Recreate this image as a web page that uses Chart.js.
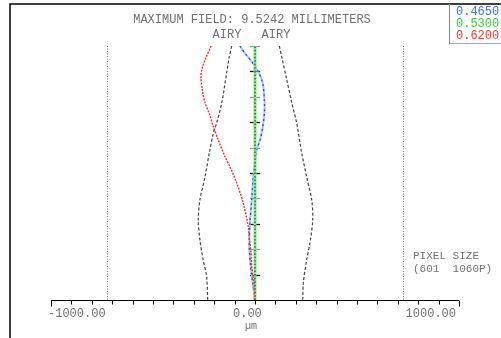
<!DOCTYPE html>
<html>
<head>
<meta charset="utf-8">
<script src="https://cdn.jsdelivr.net/npm/chart.js@4/dist/chart.umd.min.js"></script>
<style>
html,body{margin:0;padding:0;background:#fff;}
#wrap{width:501px;height:338px;position:relative;}
</style>
</head>
<body>
<div id="wrap"><canvas id="c" width="501" height="338"></canvas></div>
<script>
// ---- data (x: lateral shift in µm, y: normalized field 0..1) ----
const xTickValues = [-1000,-900,-800,-700,-600,-500,-400,-300,-200,-100,0,100,200,300,400,500,600,700,800,900,1000];
const xTickLabels = ['-1000.00','0.00','1000.00'];
const fieldTicks = [0.1,0.2,0.3,0.4,0.5,0.6,0.7,0.8,0.9,1.0];

const redField = [1.0,0.945,0.906,0.874,0.827,0.776,0.736,0.682,0.630,0.564,0.525,0.461,0.382,0.289,0.244,0.197,0.131,0.067,0];
const redShift = [-215,-245,-261,-265,-258,-245,-225,-204,-180,-147,-123,-90,-58,-33,-28,-21,-16,-5,0];

const blueField = [1.0,0.971,0.938,0.899,0.853,0.787,0.735,0.682,0.630,0.590,0.485,0.394,0.302,0.210,0.131,0.066,0];
const blueShift = [-74,-49,-16,16,38,46,46,38,25,8,-8,-16,-25,-28,-21,-11,0];

const greenField = [0,1.0];
const greenShift = [0,0];

const airyLeftField = [1.0,0.958,0.894,0.776,0.697,0.657,0.579,0.485,0.394,0.315,0.236,0.157,0.092,0];
const airyLeftShift = [-114,-126,-139,-163,-188,-204,-224,-245,-270,-278,-270,-254,-237,-232];

const airyRightField = [1.0,0.958,0.870,0.777,0.698,0.579,0.485,0.394,0.315,0.228,0.157,0.067,0];
const airyRightShift = [119,131,155,180,204,229,253,278,283,270,253,237,234];

const pixelSizeLimits = [-727,727];
const wavelengths = ['0.4650','0.5300','0.6200'];
const titleText = 'MAXIMUM FIELD: 9.5242 MILLIMETERS';

function pts(xs, ys){ return xs.map((x,i)=>({x:x, y:ys[i]})); }

const MONO = '"Liberation Mono","DejaVu Sans Mono",monospace';

const decor = {
  id:'decor',
  beforeDatasetsDraw(chart){
    const ctx = chart.ctx, xs = chart.scales.x, ys = chart.scales.y;
    ctx.save();
    // frame
    ctx.strokeStyle = '#000'; ctx.lineWidth = 1.5;
    ctx.beginPath(); ctx.moveTo(10,338); ctx.lineTo(10,4); ctx.lineTo(501,4); ctx.stroke();
    // legend box
    ctx.strokeStyle = '#888'; ctx.lineWidth = 1;
    ctx.beginPath(); ctx.moveTo(449.5,4); ctx.lineTo(449.5,43.5); ctx.stroke();
    ctx.setLineDash([1,1]); ctx.strokeStyle='#555';
    ctx.beginPath(); ctx.moveTo(449.5,43.5); ctx.lineTo(501,43.5); ctx.stroke();
    ctx.setLineDash([]);
    // x axis line + ticks
    const y0 = Math.round(ys.getPixelForValue(0)) + 0.5;
    ctx.strokeStyle = '#000'; ctx.lineWidth = 1;
    ctx.beginPath();
    ctx.moveTo(xs.getPixelForValue(-1000), y0); ctx.lineTo(xs.getPixelForValue(1000), y0);
    xTickValues.forEach(v=>{
      const px = Math.round(xs.getPixelForValue(v)) + 0.5;
      const len = (Math.abs(v)===1000) ? 6 : 4;
      ctx.moveTo(px, y0); ctx.lineTo(px, y0+len);
    });
    ctx.stroke();
    // pixel size limit lines
    ctx.strokeStyle = '#777'; ctx.setLineDash([1,1.5]);
    pixelSizeLimits.forEach(v=>{
      const px = Math.round(xs.getPixelForValue(v)) + 0.5;
      ctx.beginPath(); ctx.moveTo(px, ys.getPixelForValue(1)); ctx.lineTo(px, y0); ctx.stroke();
    });
    ctx.setLineDash([]);
    // field ticks on center axis
    fieldTicks.forEach((f,i)=>{
      const py = Math.round(ys.getPixelForValue(f)) + 0.5;
      ctx.strokeStyle = (i%2===0) ? '#111' : '#999';
      ctx.lineWidth = 1.3;
      ctx.beginPath(); ctx.moveTo(xs.getPixelForValue(-25), py); ctx.lineTo(xs.getPixelForValue(25), py); ctx.stroke();
    });
    ctx.restore();
  },
  afterDraw(chart){
    const ctx = chart.ctx, xs = chart.scales.x;
    ctx.save();
    ctx.fillStyle = '#707070';
    ctx.font = '12px ' + MONO;
    ctx.textBaseline = 'middle';
    ctx.textAlign = 'center';
    ctx.fillText(titleText, 252, 20);
    ctx.fillText('AIRY', 227, 35);
    ctx.fillText('AIRY', 276, 35);
    // axis labels
    ctx.textAlign = 'left';
    ctx.fillText(xTickLabels[0], xs.getPixelForValue(-1000) - 3, 314);
    ctx.fillText(xTickLabels[1], xs.getPixelForValue(0) - 22, 314);
    ctx.textAlign = 'right';
    ctx.fillText(xTickLabels[2], xs.getPixelForValue(1000) - 3, 314);
    ctx.textAlign = 'center';
    ctx.font = '10px ' + MONO;
    ctx.fillText('µm', 251, 326);
    // pixel size note
    ctx.textAlign = 'left';
    ctx.font = '11px ' + MONO;
    ctx.fillText('PIXEL SIZE', 413, 256);
    ctx.fillText('(601  1060P)', 413, 269);
    // legend
    ctx.font = '12px ' + MONO;
    const cols = ['#3a6dff','#35d035','#ff3030'];
    wavelengths.forEach((w,i)=>{
      ctx.fillStyle = cols[i];
      ctx.fillText(w, 456, 12 + i*12);
    });
    ctx.restore();
  }
};

new Chart(document.getElementById('c'), {
  type:'scatter',
  data:{
    datasets:[
      {label:'airyL', data:pts(airyLeftShift, airyLeftField), borderColor:'#444', borderWidth:1.2, borderDash:[3,2], order:5},
      {label:'airyR', data:pts(airyRightShift, airyRightField), borderColor:'#444', borderWidth:1.2, borderDash:[3,2], order:5},
      {label:'blueBg', data:pts(blueShift, blueField), borderColor:'#a9c4ff', borderWidth:2, order:4},
      {label:'blue', data:pts(blueShift, blueField), borderColor:'#1a4dff', borderWidth:1.3, borderDash:[2,3], order:3},
      {label:'greenBg', data:pts(greenShift, greenField), borderColor:'#8fe08f', borderWidth:3, order:2},
      {label:'green', data:pts(greenShift, greenField), borderColor:'#0a8a0a', borderWidth:1.5, borderDash:[1.5,2], order:1},
      {label:'red', data:pts(redShift, redField), borderColor:'#ff2a2a', borderWidth:1.4, borderDash:[2,1.2], order:0}
    ].map(d=>Object.assign({showLine:true, pointRadius:0, tension:0.3, fill:false}, d))
  },
  options:{
    responsive:false,
    animation:false,
    layout:{padding:{left:51, right:42, top:46, bottom:38}},
    plugins:{legend:{display:false}, tooltip:{enabled:false}},
    scales:{
      x:{type:'linear', min:-1000, max:1000, display:false},
      y:{type:'linear', min:0, max:1, display:false}
    }
  },
  plugins:[decor]
});
</script>
</body>
</html>
